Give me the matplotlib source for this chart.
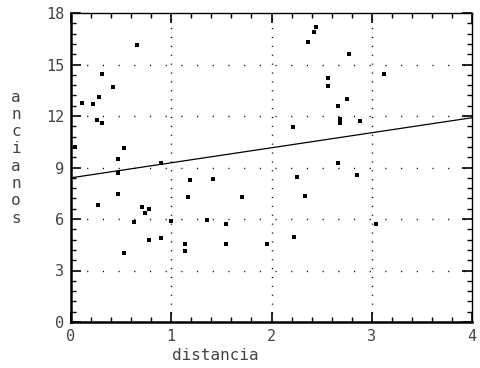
import matplotlib
matplotlib.use("Agg")
import matplotlib.pyplot as plt
from matplotlib.ticker import MultipleLocator

# data
distancia = [0.04, 0.11, 0.22, 0.28, 0.31, 0.42, 0.66, 0.26, 0.31, 0.53,
             0.47, 0.90, 0.47, 1.19, 1.17, 0.47, 0.27, 0.71, 0.78, 0.74,
             0.63, 1.00, 0.78, 0.90, 0.53, 1.14, 1.14, 1.42, 1.71, 1.36,
             1.55, 1.55, 1.96, 2.25, 2.33, 2.22, 2.85, 3.04, 2.44, 2.42,
             2.36, 2.56, 2.56, 2.21, 2.66, 2.68, 2.68, 2.75, 2.88, 2.77,
             3.12, 2.66]
ancianos = [10.2, 12.77, 12.71, 13.12, 14.46, 13.70, 16.15, 11.78, 11.60, 10.15,
            9.50, 9.27, 8.69, 8.28, 7.29, 7.46, 6.82, 6.71, 6.59, 6.36,
            5.83, 5.89, 4.78, 4.90, 4.02, 4.55, 4.14, 8.34, 7.29, 5.95,
            5.71, 4.55, 4.55, 8.45, 7.35, 4.96, 8.57, 5.71, 17.2, 16.9,
            16.33, 14.23, 13.76, 11.37, 12.6, 11.84, 11.6, 13.0, 11.72, 15.63,
            14.46, 9.27]
fit_x = [0, 4]
fit_y = [8.4, 11.9]
xticks = [0, 1, 2, 3, 4]
yticks = [0, 3, 6, 9, 12, 15, 18]
xlabel = "distancia"
ylabel = "ancianos"

W, H = 480, 368
fig = plt.figure(figsize=(W / 100, H / 100), dpi=100)
ax = fig.add_axes([71 / W, 1 - 322 / H, (472 - 71) / W, (322 - 13) / H])

ax.plot(distancia, ancianos, ls="none", marker="s", ms=3.0, mfc="black",
        mec="black", mew=0)
ax.plot(fit_x, fit_y, color="black", lw=0.9)

ax.set_xlim(0, 4)
ax.set_ylim(0, 18)
ax.set_xticks(xticks)
ax.set_yticks(yticks)
ax.xaxis.set_minor_locator(MultipleLocator(0.2))
ax.yaxis.set_minor_locator(MultipleLocator(0.6))

for x in xticks[1:-1]:
    ax.axvline(x, color="black", lw=1.0, ls=(0, (0.8, 5.6)), zorder=0)
for y in yticks[1:-1]:
    ax.axhline(y, color="black", lw=1.0, ls=(0, (0.8, 10.5)), zorder=0)

ax.tick_params(which="both", direction="in", top=True, right=True,
               colors="black", labelcolor="#444444")
ax.tick_params(which="major", length=7, width=1.2, pad=5)
ax.tick_params(which="minor", length=3.5, width=1.0)
for lab in ax.get_xticklabels() + ax.get_yticklabels():
    lab.set_family("DejaVu Sans Mono")
    lab.set_fontsize(11)

ax.spines["left"].set_linewidth(1.8)
ax.spines["bottom"].set_linewidth(1.8)
ax.spines["top"].set_linewidth(1.0)
ax.spines["right"].set_linewidth(1.0)

fig.text(215 / W, 1 - 356 / H, xlabel, ha="center", va="center",
         family="DejaVu Sans Mono", fontsize=11.5, color="#444444")
for i, ch in enumerate(ylabel):
    fig.text(16 / W, 1 - (97 + 17.3 * i) / H, ch, ha="center", va="center",
             family="DejaVu Sans Mono", fontsize=11.5, color="#444444")

fig.savefig("out.png", dpi=100)
